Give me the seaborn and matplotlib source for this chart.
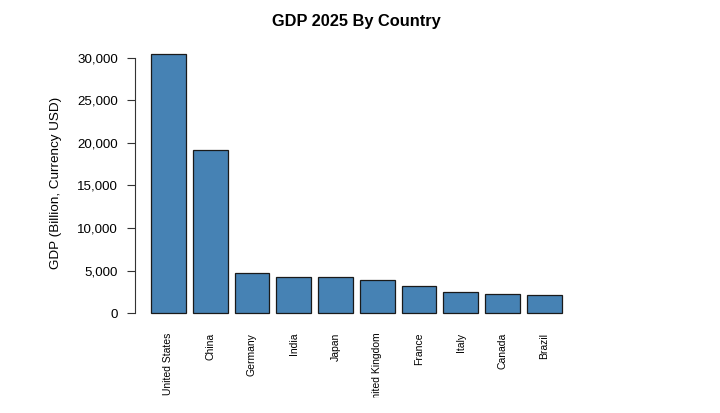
import matplotlib
matplotlib.use("Agg")
import matplotlib.pyplot as plt
from matplotlib.ticker import StrMethodFormatter
from matplotlib.transforms import Bbox, TransformedBbox
import seaborn as sns

# GDP 2025, billions of USD
countries = ["United States", "China", "Germany", "India", "Japan",
             "United Kingdom", "France", "Italy", "Canada", "Brazil"]
gdp = [30507, 19231, 4744, 4187, 4186, 3839, 3211, 2422, 2225, 2125]
yticks = [0, 5000, 10000, 15000, 20000, 25000, 30000]

sns.set_style("white")
plt.rcParams["font.family"] = ["Liberation Sans", "DejaVu Sans"]
plt.rcParams["text.color"] = "black"
plt.rcParams["axes.labelcolor"] = "black"
plt.rcParams["xtick.color"] = "black"
plt.rcParams["ytick.color"] = "black"

fig = plt.figure(figsize=(7.2, 4.13), dpi=100)
ax = fig.add_axes([0.187, 0.217, 0.616, 0.678])

sns.barplot(x=countries, y=gdp, color="#4682B4", saturation=1,
            width=1 / 1.2, edgecolor="#1a1a1a", linewidth=0.9, ax=ax)

ax.set_xlim(-0.81, 9.81)
ax.set_ylim(-1220, 31720)

#only the left axis, drawn from 0 to 30,000 like base R
for s in ["top", "right", "bottom"]:
    ax.spines[s].set_visible(False)
ax.spines["left"].set_bounds(0, 30000)
ax.spines["left"].set_color("#333333")
ax.spines["left"].set_linewidth(0.8)

ax.set_yticks(yticks)
ax.yaxis.set_major_formatter(StrMethodFormatter("{x:,.0f}"))
ax.tick_params(axis="y", direction="out", length=5.8, width=0.8,
               color="#333333", labelcolor="black", pad=6.3, labelsize=9.6,
               left=True)
ax.set_xticks(range(len(countries)))
ax.set_xticklabels(countries, rotation=90, fontsize=7.5, va="top", ha="center")
ax.tick_params(axis="x", length=0, pad=6.7, labelcolor="black")
ax.set_xlabel("")

ax.set_ylabel("GDP (Billion, Currency USD)", fontsize=9.7, va="center",
              color="black")
ax.yaxis.set_label_coords(-0.178, 0.5)

fig.text(356.5 / 720, 1 - 26 / 413, "GDP 2025 By Country", ha="center",
         va="baseline", fontsize=11.8, fontweight="bold", color="black")

#long labels get cut off at the bottom of the device, as in the original
clip = TransformedBbox(Bbox.from_extents(0, 15 / 413, 1, 1), fig.transFigure)
for lab in ax.get_xticklabels():
    lab.set_clip_box(clip)
    lab.set_clip_on(True)

fig.savefig("out.png", dpi=100)
